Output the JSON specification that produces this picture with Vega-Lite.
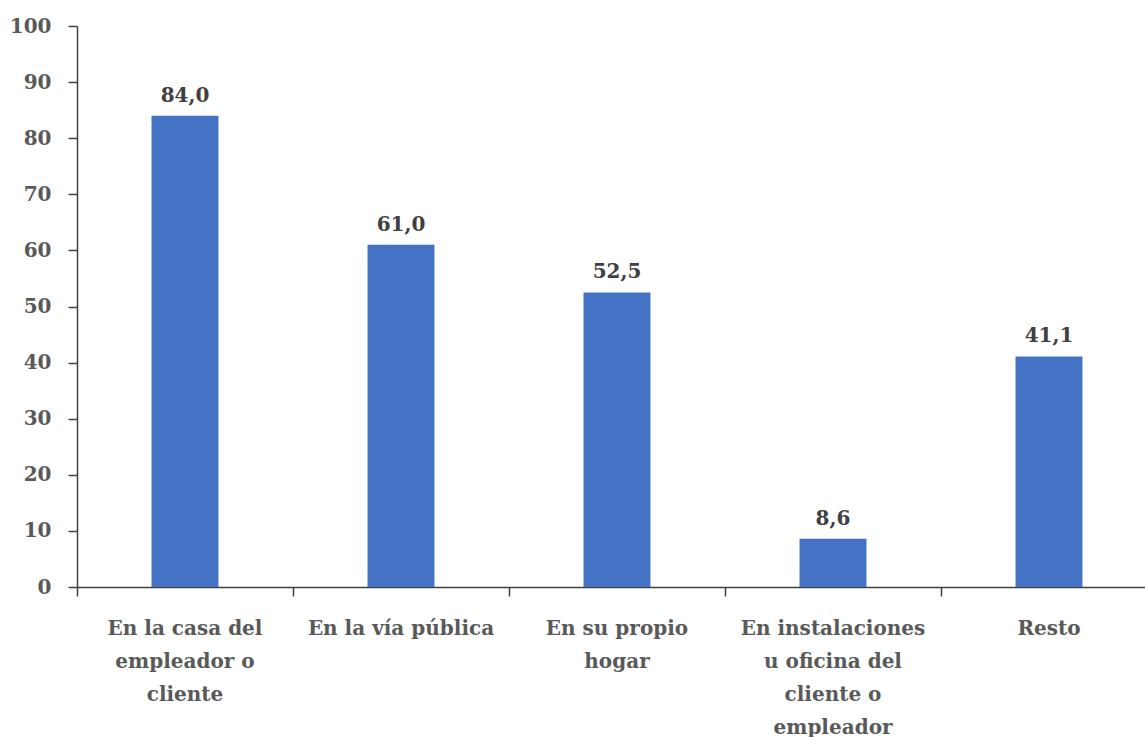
{
  "$schema": "https://vega.github.io/schema/vega-lite/v6.json",
  "width": 1080,
  "height": 561,
  "padding": {"left": 9, "top": 16, "right": 0, "bottom": 0},
  "background": "white",
  "config": {
    "view": {"stroke": null},
    "locale": {"number": {"decimal": ",", "thousands": ".", "grouping": [3], "currency": ["", " €"]}},
    "font": "DejaVu Serif"
  },
  "data": {
    "values": [
      {"lugar": "En la casa del empleador o cliente", "valor": 84.0},
      {"lugar": "En la vía pública", "valor": 61.0},
      {"lugar": "En su propio hogar", "valor": 52.5},
      {"lugar": "En instalaciones u oficina del cliente o empleador", "valor": 8.6},
      {"lugar": "Resto", "valor": 41.1}
    ]
  },
  "encoding": {
    "x": {
      "field": "lugar",
      "type": "nominal",
      "sort": null,
      "scale": {"paddingInner": 0, "paddingOuter": 0},
      "axis": {
        "title": null,
        "labelAngle": 0,
        "labelFont": "DejaVu Serif",
        "labelFontWeight": "bold",
        "labelFontSize": 20,
        "labelColor": "#595959",
        "labelPadding": 22,
        "labelLineHeight": 33,
        "labelLimit": 0,
        "labelBaseline": "top",
        "bandPosition": 0,
        "tickSize": 9,
        "tickColor": "#404040",
        "tickWidth": 1.5,
        "domainColor": "#404040",
        "domainWidth": 1.5,
        "labelExpr": "datum.label == 'En la casa del empleador o cliente' ? ['En la casa del', 'empleador o', 'cliente'] : datum.label == 'En su propio hogar' ? ['En su propio', 'hogar'] : datum.label == 'En instalaciones u oficina del cliente o empleador' ? ['En instalaciones', 'u oficina del', 'cliente o', 'empleador'] : datum.label"
      }
    },
    "y": {
      "field": "valor",
      "type": "quantitative",
      "scale": {"domain": [0, 100]},
      "axis": {
        "title": null,
        "grid": false,
        "values": [0, 10, 20, 30, 40, 50, 60, 70, 80, 90, 100],
        "labelFont": "DejaVu Serif",
        "labelFontWeight": "bold",
        "labelFontSize": 20,
        "labelColor": "#595959",
        "labelPadding": 17,
        "tickSize": 9,
        "tickColor": "#404040",
        "tickWidth": 1.5,
        "domainColor": "#404040",
        "domainWidth": 1.5
      }
    }
  },
  "layer": [
    {
      "mark": {"type": "bar", "color": "#4472C4", "width": {"band": 0.31}}
    },
    {
      "mark": {"type": "text", "dy": -10, "baseline": "bottom", "fontSize": 20, "fontWeight": "bold", "font": "DejaVu Serif", "color": "#404040"},
      "encoding": {"text": {"field": "valor", "type": "quantitative", "format": ".1f"}}
    }
  ]
}
